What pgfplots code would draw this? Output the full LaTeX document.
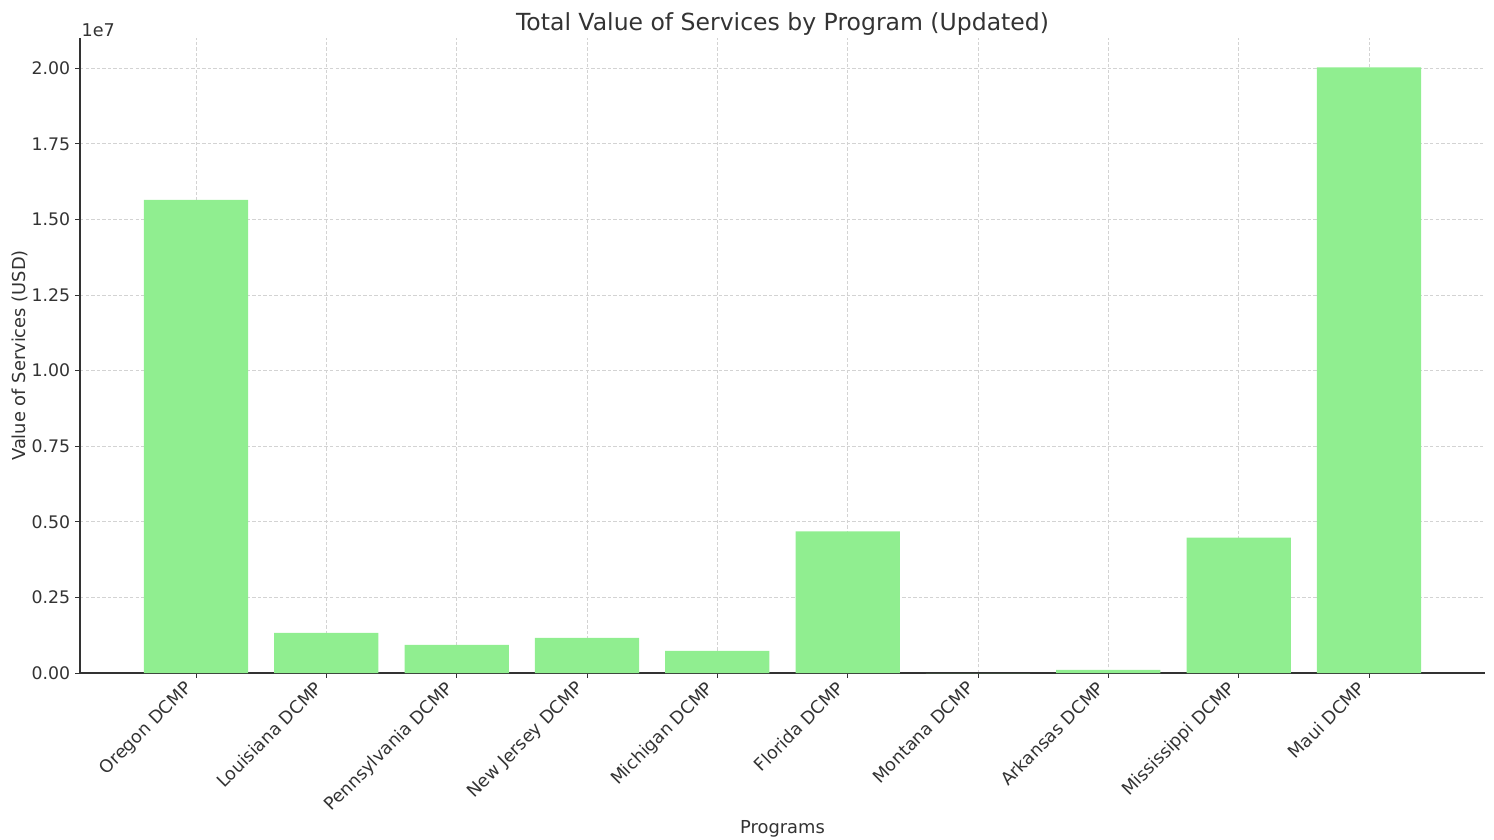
\documentclass[border=0pt]{standalone}
\usepackage{pgfplots}
\pgfplotsset{compat=1.18}
\usepackage{fontspec}
\setmainfont{DejaVu Sans}
\definecolor{barcol}{HTML}{90EE90}
\definecolor{txt}{HTML}{333333}
\definecolor{gridc}{HTML}{D3D3D3}

\begin{document}
\begin{tikzpicture}
\begin{axis}[
    name=ax,
    at={(0,0)}, anchor=south west,
    scale only axis,
    width=1011.6bp, height=457.2bp,
    xmin=-0.89, xmax=9.89,
    ymin=0, ymax=21000000,
    axis x line*=bottom, axis y line*=left,
    axis line style={txt, line width=0.9pt},
    tick align=outside,
    major tick length=3.5bp,
    tick style={txt, line width=0.6pt},
    xtick=data,
    xticklabels={Oregon DCMP, Louisiana DCMP, Pennsylvania DCMP, New Jersey DCMP, Michigan DCMP, Florida DCMP, Montana DCMP, Arkansas DCMP, Mississippi DCMP, Maui DCMP},
    xticklabel style={xshift=-9bp, rotate=45, anchor=north east, font=\fontsize{12.7}{15}\selectfont, text=txt, inner sep=1pt},
    ytick={0,2500000,5000000,7500000,10000000,12500000,15000000,17500000,20000000},
    scaled y ticks=base 10:-7,
    ytick scale label code/.code={1e7},
    every y tick scale label/.style={at={(rel axis cs:0,1)}, anchor=south west, inner sep=1pt, font=\fontsize{12.7}{15}\selectfont, text=txt},
    yticklabel style={font=\fontsize{12.5}{15}\selectfont, text=txt,
        /pgf/number format/fixed, /pgf/number format/fixed zerofill,
        /pgf/number format/precision=2, /pgf/number format/assume math mode=true},
    grid=major,
    major grid style={gridc, dash pattern=on 2.5bp off 1.5bp, line width=0.5pt},
    xlabel={Programs},
    ylabel={Value of Services (USD)},
    label style={font=\fontsize{12.9}{15}\selectfont, text=txt},
    xlabel style={at={(rel axis cs:0.5,0)}, anchor=south, yshift=-122bp},
    ylabel style={yshift=-4bp},
    title={Total Value of Services by Program (Updated)},
    title style={font=\fontsize{17}{20}\selectfont, text=txt, yshift=-7.6bp},
    bar width=0.8,
    bar shift=0pt,
]
\addplot[ybar, fill=barcol, draw=none] coordinates {
    (0, 15650000)
    (1, 1330000)
    (2, 930000)
    (3, 1160000)
    (4, 730000)
    (5, 4680000)
    (6, 0)
    (7, 100000)
    (8, 4480000)
    (9, 20030000)
};
\end{axis}
\pgfresetboundingbox
\path (ax.south west) ++(-57.6bp,-120.24bp) coordinate (bl);
\path (ax.north east) ++(6.48bp,27.36bp) coordinate (tr);
\path[use as bounding box] (bl) rectangle (tr);
\end{tikzpicture}
\end{document}
